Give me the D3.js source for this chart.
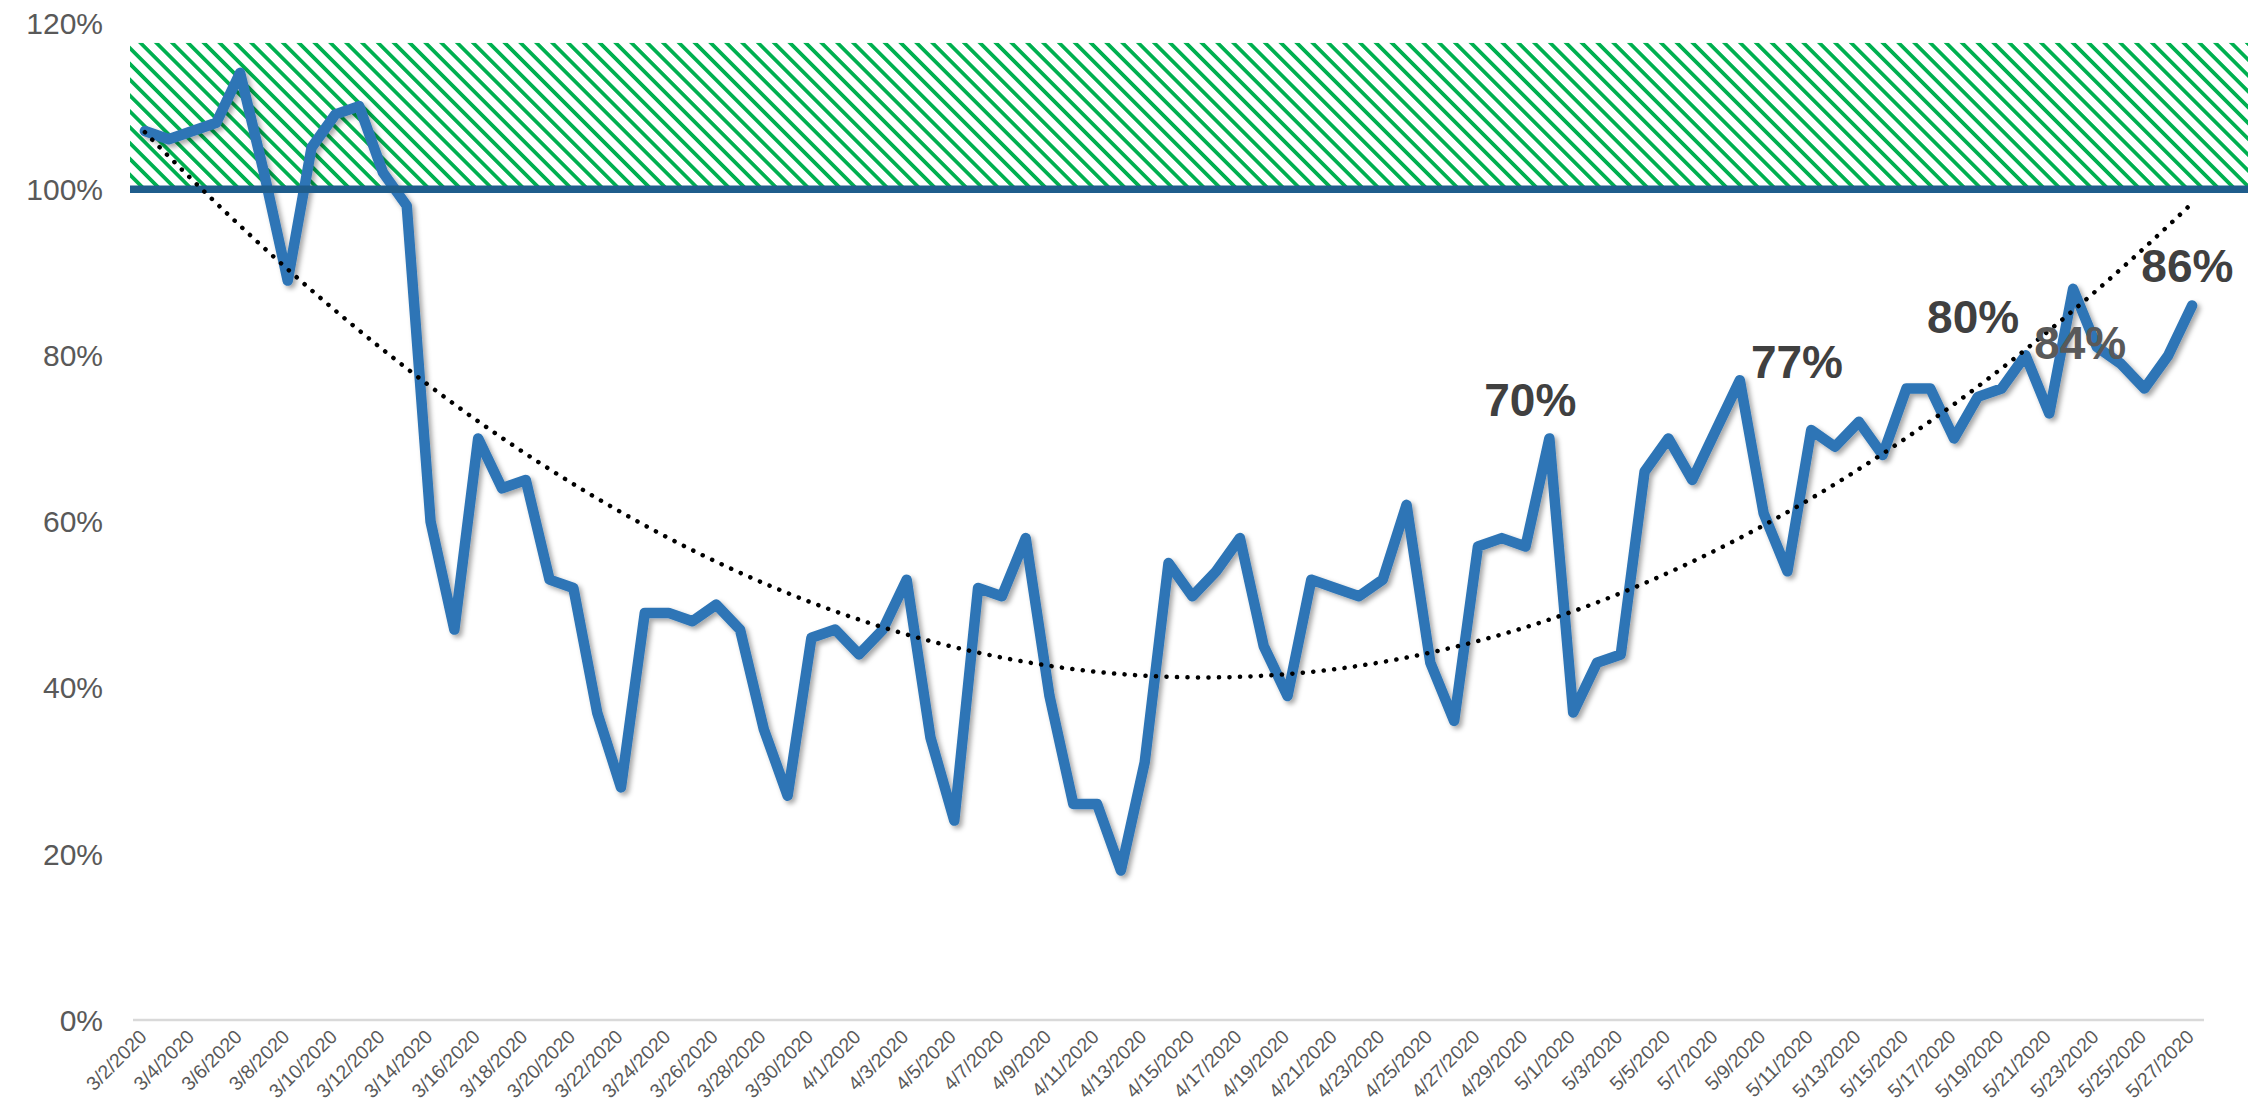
<!DOCTYPE html>
<html>
<head>
<meta charset="utf-8">
<script src="https://cdn.jsdelivr.net/npm/d3@7"></script>
<style>
  html, body { margin: 0; padding: 0; background: #fff; }
  svg { display: block; }
  text { font-family: "Liberation Sans", Arial, sans-serif; }
</style>
</head>
<body>
<svg id="chart" width="2248" height="1104"></svg>
<script>
var dates = [
    '3/2/2020','3/3/2020','3/4/2020','3/5/2020','3/6/2020','3/7/2020','3/8/2020','3/9/2020','3/10/2020','3/11/2020',
    '3/12/2020','3/13/2020','3/14/2020','3/15/2020','3/16/2020','3/17/2020','3/18/2020','3/19/2020','3/20/2020','3/21/2020',
    '3/22/2020','3/23/2020','3/24/2020','3/25/2020','3/26/2020','3/27/2020','3/28/2020','3/29/2020','3/30/2020','3/31/2020',
    '4/1/2020','4/2/2020','4/3/2020','4/4/2020','4/5/2020','4/6/2020','4/7/2020','4/8/2020','4/9/2020','4/10/2020',
    '4/11/2020','4/12/2020','4/13/2020','4/14/2020','4/15/2020','4/16/2020','4/17/2020','4/18/2020','4/19/2020','4/20/2020',
    '4/21/2020','4/22/2020','4/23/2020','4/24/2020','4/25/2020','4/26/2020','4/27/2020','4/28/2020','4/29/2020','4/30/2020',
    '5/1/2020','5/2/2020','5/3/2020','5/4/2020','5/5/2020','5/6/2020','5/7/2020','5/8/2020','5/9/2020','5/10/2020',
    '5/11/2020','5/12/2020','5/13/2020','5/14/2020','5/15/2020','5/16/2020','5/17/2020','5/18/2020','5/19/2020','5/20/2020',
    '5/21/2020','5/22/2020','5/23/2020','5/24/2020','5/25/2020','5/26/2020','5/27/2020'
];

/* percent of baseline, one per day */
var values = [
    107, 106, 107, 108, 114, 102,  89, 105, 109, 110,
    102,  98,  60,  47,  70,  64,  65,  53,  52,  37,
     28,  49,  49,  48,  50,  47,  35,  27,  46,  47,
     44,  47,  53,  34,  24,  52,  51,  58,  39,  26,
     26,  18,  31,  55,  51,  54,  58,  45,  39,  53,
     52,  51,  53,  62,  43,  36,  57,  58,  57,  70,
     37,  43,  44,  66,  70,  65,  71,  77,  61,  54,
     71,  69,  72,  68,  76,  76,  70,  75,  76,  80,
     73,  88,  81,  79,  76,  80,  86
];

var yTicks = [0, 20, 40, 60, 80, 100, 120];

var target = 100;          /* solid reference line */
var targetBandTop = 117.6; /* hatched zone above the target */

/* callout labels: text, position in day index, baseline in percent */
var calloutText  = ['70%', '77%', '80%', '84%', '86%'];
var calloutAt    = [58.2, 69.4, 76.8, 81.3, 85.8];
var calloutLevel = [72.7, 77.3, 82.7, 79.5, 88.8];

/* least squares quadratic, like the spreadsheet's polynomial trendline */
function quadfit(ys) {
    var s = [0, 0, 0, 0, 0], t = [0, 0, 0];
    for (var i = 0; i < ys.length; i++) {
        var p = 1;
        for (var k = 0; k < 5; k++) { s[k] += p; if (k < 3) { t[k] += p * ys[i]; } p *= i; }
    }
    var m = [[s[0], s[1], s[2], t[0]],
             [s[1], s[2], s[3], t[1]],
             [s[2], s[3], s[4], t[2]]];
    for (var c = 0; c < 3; c++) {
        for (var r = c + 1; r < 3; r++) {
            var f = m[r][c] / m[c][c];
            for (var j = c; j < 4; j++) { m[r][j] -= f * m[c][j]; }
        }
    }
    var b = [0, 0, 0];
    for (var r = 2; r >= 0; r--) {
        var v = m[r][3];
        for (var j = r + 1; j < 3; j++) { v -= m[r][j] * b[j]; }
        b[r] = v / m[r][r];
    }
    return function (x) { return b[0] + b[1] * x + b[2] * x * x; };
}

var svg = d3.select('#chart'),
    W = +svg.attr('width');

var x = d3.scaleBand().domain(dates).range([133, 2204]).padding(0),
    y = d3.scaleLinear().domain([0, 120]).range([1020, 23]);
var cx = function (d) { return x(d) + x.bandwidth() / 2; };
var xi = d3.scaleLinear().domain([0, dates.length - 1])
           .range([cx(dates[0]), cx(dates[dates.length - 1])]);

var defs = svg.append('defs');
var pat = defs.append('pattern')
    .attr('id', 'hatch')
    .attr('patternUnits', 'userSpaceOnUse')
    .attr('width', 11.2).attr('height', 11.2)
    .attr('patternTransform', 'rotate(-45)');
pat.append('rect').attr('width', 11.2).attr('height', 11.2).attr('fill', '#fff');
pat.append('rect').attr('x', 0).attr('width', 3.6).attr('height', 11.2)
   .attr('fill', '#00B050').attr('shape-rendering', 'crispEdges');

var shadow = defs.append('filter').attr('id', 'shadow')
    .attr('x', '-5%').attr('y', '-5%').attr('width', '110%').attr('height', '110%');
shadow.append('feDropShadow')
    .attr('dx', 3).attr('dy', 3).attr('stdDeviation', 2.5)
    .attr('flood-color', '#000').attr('flood-opacity', 0.35);

/* hatched zone */
svg.append('rect')
    .attr('x', x.range()[0] - 3)
    .attr('y', y(targetBandTop))
    .attr('width', W - x.range()[0] + 3)
    .attr('height', y(target) - y(targetBandTop))
    .attr('fill', 'url(#hatch)');

/* y labels */
svg.append('g').selectAll('text')
    .data(yTicks)
    .enter().append('text')
      .attr('x', 103)
      .attr('y', function (d) { return y(d); })
      .attr('dy', '0.36em')
      .attr('text-anchor', 'end')
      .attr('font-size', 30)
      .attr('fill', '#595959')
      .text(function (d) { return d + '%'; });

/* category axis */
svg.append('line')
    .attr('x1', x.range()[0]).attr('x2', x.range()[1])
    .attr('y1', y(0)).attr('y2', y(0))
    .attr('stroke', '#D9D9D9').attr('stroke-width', 2.5);

svg.append('g').selectAll('text')
    .data(dates.filter(function (d, i) { return i % 2 == 0; }))
    .enter().append('text')
      .attr('transform', function (d) { return 'translate(' + (cx(d) + 3) + ',' + 1038 + ') rotate(-45)'; })
      .attr('text-anchor', 'end')
      .attr('font-size', 19.5)
      .attr('fill', '#595959')
      .text(function (d) { return d; });

/* the series */
var line = d3.line()
    .x(function (d, i) { return cx(dates[i]); })
    .y(function (d) { return y(d); });

svg.append('path')
    .datum(values)
    .attr('d', line)
    .attr('fill', 'none')
    .attr('stroke', '#2E75B6')
    .attr('stroke-width', 10.5)
    .attr('stroke-linejoin', 'round')
    .attr('stroke-linecap', 'round')
    .attr('filter', 'url(#shadow)');

/* target line */
svg.append('line')
    .attr('x1', x.range()[0] - 3).attr('x2', W)
    .attr('y1', y(target)).attr('y2', y(target))
    .attr('stroke', '#1F5D8C').attr('stroke-width', 7.5);

/* polynomial trend, dotted */
var fit = quadfit(values);
var steps = d3.range(0, dates.length - 1 + 0.001, 0.25);
svg.append('path')
    .datum(steps)
    .attr('d', d3.line()
        .x(function (d) { return xi(d); })
        .y(function (d) { return y(fit(d)); }))
    .attr('fill', 'none')
    .attr('stroke', '#000')
    .attr('stroke-width', 4.5)
    .attr('stroke-linecap', 'round')
    .attr('stroke-dasharray', '0.1 10.4');

/* callouts */
svg.append('g').selectAll('text')
    .data(calloutText)
    .enter().append('text')
      .attr('x', function (d, i) { return xi(calloutAt[i]); })
      .attr('y', function (d, i) { return y(calloutLevel[i]); })
      .attr('text-anchor', 'middle')
      .attr('font-size', 46)
      .attr('font-weight', 'bold')
      .attr('fill', function (d) { return d == '84%' ? '#595959' : '#404040'; })
      .text(function (d) { return d; });
</script>
</body>
</html>
